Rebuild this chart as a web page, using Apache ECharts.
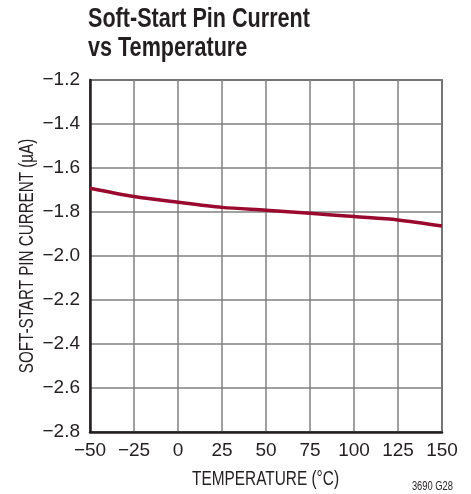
<!DOCTYPE html>
<html><head><meta charset="utf-8">
<script src="https://cdn.jsdelivr.net/npm/echarts@6/dist/echarts.min.js"></script>
<style>html,body{margin:0;padding:0;background:#fff}#c{width:471px;height:494px}</style>
</head><body><div id="c"></div>
<script>
const temperature = [-50, -25, 0, 25, 50, 75, 100, 125, 150];
const current = [-1.692, -1.730, -1.756, -1.779, -1.792, -1.806, -1.821, -1.836, -1.864];
const titleLines = ['Soft-Start Pin Current', 'vs Temperature'];
const xName = 'TEMPERATURE (°C)';
const yName = 'SOFT-START PIN CURRENT (µA)';
const note = '3690 G28';

const F = '"Liberation Sans", Arial, sans-serif';
const INK = '#231f20';
const minus = s => String(s).replace('-', '\u2212');
const chart = echarts.init(document.getElementById('c'));
chart.setOption({
  animation: false,
  grid: {left: 90, right: 29, top: 80, bottom: 62, show: true, borderColor: INK, borderWidth: 1.5, backgroundColor: 'transparent'},
  xAxis: {
    type: 'value', min: -50, max: 150, interval: 25,
    axisLine: {show: true, onZero: false, lineStyle: {color: INK, width: 2.5}},
    axisTick: {show: false},
    axisLabel: {fontFamily: F, fontSize: 19, color: INK, margin: 9, formatter: v => minus(v)},
    splitLine: {show: true, lineStyle: {color: '#808080', width: 1.5}}
  },
  yAxis: {
    type: 'value', min: -2.8, max: -1.2, interval: 0.2,
    axisLine: {show: true, onZero: false, lineStyle: {color: INK, width: 2.5}},
    axisTick: {show: false},
    axisLabel: {fontFamily: F, fontSize: 19, color: INK, margin: 10, formatter: v => minus(v.toFixed(1))},
    splitLine: {show: true, lineStyle: {color: '#808080', width: 1.5}}
  },
  graphic: [
    {type: 'text', x: 88, y: 20, scaleX: 0.8, style: {text: titleLines[0], font: 'bold 27px ' + F, fill: INK, textAlign: 'left', textVerticalAlign: 'middle'}},
    {type: 'text', x: 88, y: 49, scaleX: 0.8, style: {text: titleLines[1], font: 'bold 27px ' + F, fill: INK, textAlign: 'left', textVerticalAlign: 'middle'}},
    {type: 'text', x: 265.5, y: 479.5, scaleX: 0.77, style: {text: xName, font: '20px ' + F, fill: INK, textAlign: 'center', textVerticalAlign: 'middle'}},
    {type: 'text', x: 27, y: 256, rotation: Math.PI / 2, scaleX: 0.76, style: {text: yName, font: '20px ' + F, fill: INK, textAlign: 'center', textVerticalAlign: 'middle'}},
    {type: 'text', x: 453, y: 487, scaleX: 0.78, style: {text: note, font: '12px ' + F, fill: INK, textAlign: 'right', textVerticalAlign: 'middle'}}
  ],
  series: [{
    type: 'line', data: temperature.map((t, i) => [t, current[i]]),
    smooth: 0.3, showSymbol: false,
    lineStyle: {color: '#9a0a2e', width: 3.5}
  }]
});
</script></body></html>
